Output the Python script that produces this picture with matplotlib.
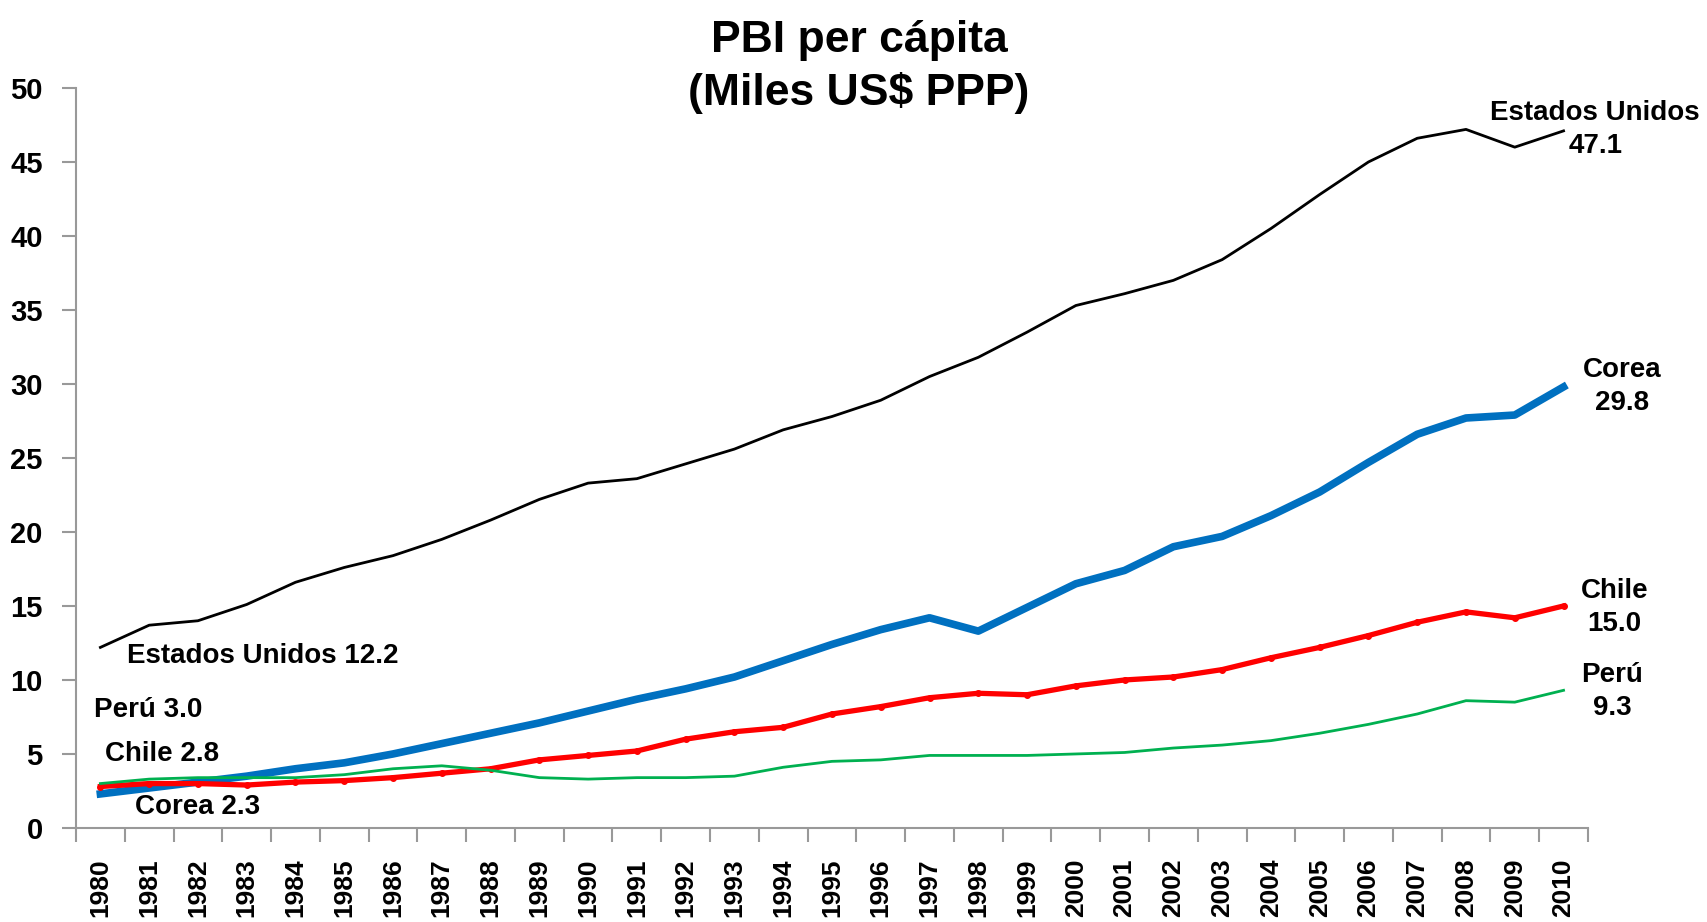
import numpy as np
import matplotlib
matplotlib.use("Agg")
import matplotlib.pyplot as plt
from matplotlib.ticker import FixedLocator

# Datos (miles US$ PPP)
anios = list(range(1980, 2011))
usa = [12.2, 13.7, 14.0, 15.1, 16.6, 17.6, 18.4, 19.5, 20.8, 22.2, 23.3, 23.6, 24.6,
       25.6, 26.9, 27.8, 28.9, 30.5, 31.8, 33.5, 35.3, 36.1, 37.0, 38.4, 40.5, 42.8,
       45.0, 46.6, 47.2, 46.0, 47.1]
corea = [2.3, 2.7, 3.1, 3.5, 4.0, 4.4, 5.0, 5.7, 6.4, 7.1, 7.9, 8.7, 9.4, 10.2, 11.3,
         12.4, 13.4, 14.2, 13.3, 14.9, 16.5, 17.4, 19.0, 19.7, 21.1, 22.7, 24.7, 26.6,
         27.7, 27.9, 29.8]
chile = [2.8, 3.0, 3.0, 2.9, 3.1, 3.2, 3.4, 3.7, 4.0, 4.6, 4.9, 5.2, 6.0, 6.5, 6.8,
         7.7, 8.2, 8.8, 9.1, 9.0, 9.6, 10.0, 10.2, 10.7, 11.5, 12.2, 13.0, 13.9, 14.6,
         14.2, 15.0]
peru = [3.0, 3.3, 3.4, 3.4, 3.4, 3.6, 4.0, 4.2, 3.9, 3.4, 3.3, 3.4, 3.4, 3.5, 4.1,
        4.5, 4.6, 4.9, 4.9, 4.9, 5.0, 5.1, 5.4, 5.6, 5.9, 6.4, 7.0, 7.7, 8.6, 8.5, 9.3]

plt.rcParams["font.family"] = ["Liberation Sans", "DejaVu Sans"]

fig = plt.figure(figsize=(17.08, 9.22), dpi=100)
ax = fig.add_axes([0.0445, 0.102, 0.8852, 0.8026])

ax.plot(anios, usa, color="black", lw=2.0, zorder=2)
ax.plot(anios, corea, color="#0070C0", lw=5.5, zorder=3)
ax.plot(anios, chile, color="#FF0000", lw=3.8, marker="o", ms=4, zorder=4)
ax.plot(anios, peru, color="#00B050", lw=2.0, zorder=5)

ax.set_xlim(1979.5, 2010.5)
ax.set_ylim(0, 50)
ax.set_yticks(np.arange(0, 51, 5))

ax.xaxis.set_major_locator(FixedLocator(anios))
ax.xaxis.set_minor_locator(FixedLocator(np.arange(1979.5, 2011, 1)))
ax.set_xticklabels([str(a) for a in anios], rotation=90, fontsize=19,
                   fontweight="bold")
ax.tick_params(axis="x", which="major", length=0, pad=22)
ax.tick_params(axis="x", which="minor", length=10, width=1.5, color="#999999")
ax.tick_params(axis="y", length=10, width=1.5, color="#999999", pad=14)
for lab in ax.get_yticklabels():
    lab.set_fontsize(21)
    lab.set_fontweight("bold")

for s in ["top", "right"]:
    ax.spines[s].set_visible(False)
for s in ["left", "bottom"]:
    ax.spines[s].set_color("#999999")
    ax.spines[s].set_linewidth(1.5)

fig.text(0.503, 0.927, "PBI per cápita\n(Miles US$ PPP)", ha="center", va="center",
         fontsize=32, fontweight="bold", linespacing=1.33)

kw = dict(fontsize=20, fontweight="bold", va="center")
ax.text(1980.55, 11.6, "Estados Unidos 12.2", ha="left", **kw)
ax.text(1979.87, 8.0, "Perú 3.0", ha="left", **kw)
ax.text(1980.1, 5.0, "Chile 2.8", ha="left", **kw)
ax.text(1980.7, 1.4, "Corea 2.3", ha="left", **kw)

ax.text(2010.65, 47.2, "Estados Unidos\n47.1", ha="center", linespacing=1.35, **kw)
ax.text(2011.2, 29.8, "Corea\n29.8", ha="center", linespacing=1.35, **kw)
ax.text(2011.05, 14.9, "Chile\n15.0", ha="center", linespacing=1.35, **kw)
ax.text(2011.0, 9.25, "Perú\n9.3", ha="center", linespacing=1.35, **kw)

fig.savefig("out.png", dpi=100)
